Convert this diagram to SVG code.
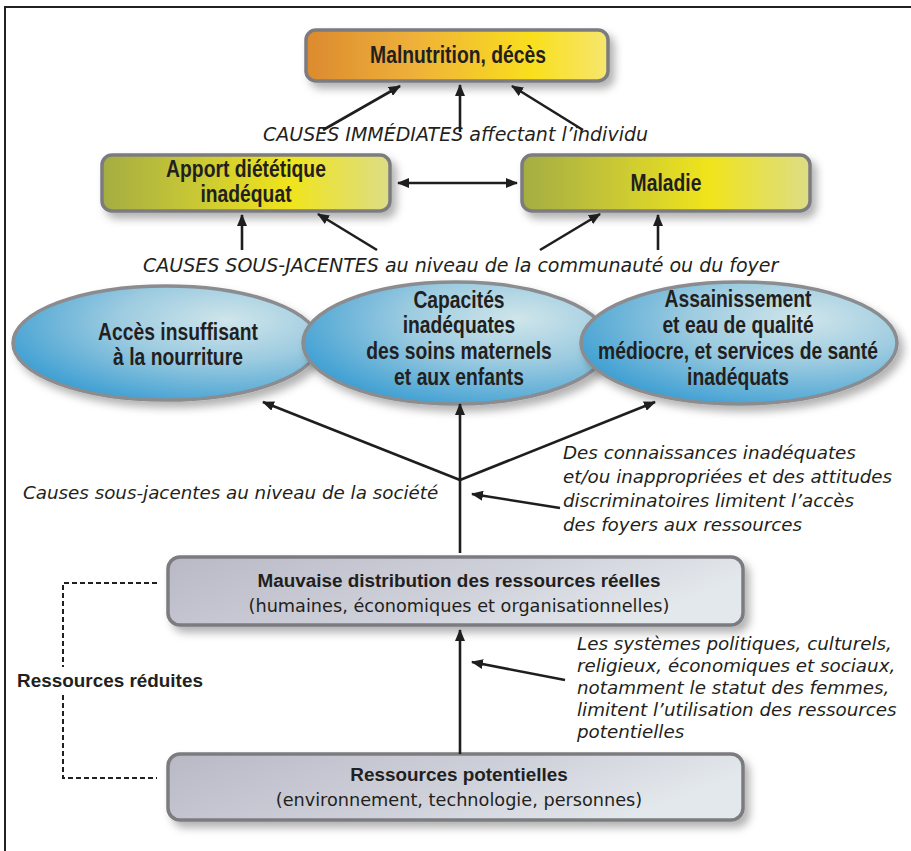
<svg xmlns="http://www.w3.org/2000/svg" width="911" height="851" viewBox="0 0 911 851">
<defs>
<style>
.bx{stroke:#7c7c80;stroke-width:3.5}
.el{stroke:#8a8c90;stroke-width:3.5}
.cb{font-family:"Liberation Sans",Arial,sans-serif;font-weight:bold;fill:#231f20;text-anchor:middle;font-size:23px}
.nb{font-family:"Liberation Sans",Arial,sans-serif;font-weight:bold;fill:#231f20;text-anchor:middle;font-size:18.9px}
.nr{font-family:"DejaVu Sans",sans-serif;fill:#231f20;text-anchor:middle;font-size:17.7px}
.it{font-family:"DejaVu Sans",sans-serif;font-style:oblique;fill:#231f20;font-size:18.3px}
.cp{font-size:19px}
.ar{stroke:#1e1e1e;stroke-width:2.6;fill:none}
</style>
<marker id="ah" viewBox="0 0 12 10" refX="11" refY="5" markerWidth="12" markerHeight="10" markerUnits="userSpaceOnUse" orient="auto-start-reverse"><path d="M0,0 L12,5 L0,10 z" fill="#1e1e1e"/></marker>
<filter id="sh" x="-10%" y="-20%" width="125%" height="160%"><feDropShadow dx="5" dy="6" stdDeviation="4" flood-color="#000" flood-opacity="0.3"/></filter>
<linearGradient id="gOr" x1="0" y1="0" x2="1" y2="0">
<stop offset="0" stop-color="#dc8a2e"/><stop offset="0.35" stop-color="#eeb03a"/><stop offset="0.75" stop-color="#f9df1e"/><stop offset="1" stop-color="#f6e66e"/>
</linearGradient>
<linearGradient id="gYg" x1="0" y1="0" x2="1" y2="0">
<stop offset="0" stop-color="#a4ad42"/><stop offset="0.3" stop-color="#c6c636"/><stop offset="0.65" stop-color="#f0e41c"/><stop offset="1" stop-color="#dcdd86"/>
</linearGradient>
<radialGradient id="gBl" cx="0.7" cy="0.3" r="0.8">
<stop offset="0" stop-color="#cfe5ea"/><stop offset="0.45" stop-color="#9ccbe0"/><stop offset="1" stop-color="#3a9dd2"/>
</radialGradient>
<linearGradient id="gGr" x1="0" y1="0" x2="1" y2="0.3">
<stop offset="0" stop-color="#b9b9c6"/><stop offset="0.6" stop-color="#cfd1da"/><stop offset="1" stop-color="#e3e8ec"/>
</linearGradient>
</defs>
<rect width="911" height="851" fill="#fff"/>
<path d="M5,851 V7 H911" fill="none" stroke="#222" stroke-width="2"/>

<g id="malnutrition">
<rect class="bx" x="306" y="30" width="302" height="51" rx="10" fill="url(#gOr)" filter="url(#sh)"/>
<text class="cb" transform="translate(458,63) scale(0.84,1)">Malnutrition, décès</text>
</g>

<g id="apport">
<rect class="bx" x="102" y="155" width="288" height="56" rx="10" fill="url(#gYg)" filter="url(#sh)"/>
<text class="cb" transform="translate(246,177) scale(0.84,1)">Apport diététique</text>
<text class="cb" transform="translate(246,202) scale(0.84,1)">inadéquat</text>
</g>

<g id="maladie">
<rect class="bx" x="522" y="155" width="288" height="56" rx="10" fill="url(#gYg)" filter="url(#sh)"/>
<text class="cb" transform="translate(666,191) scale(0.84,1)">Maladie</text>
</g>

<g id="acces">
<ellipse class="el" cx="166" cy="343" rx="153" ry="57" fill="url(#gBl)" filter="url(#sh)"/>
<text class="cb" transform="translate(178,340) scale(0.84,1)">Accès insuffisant</text>
<text class="cb" transform="translate(178,365) scale(0.84,1)">à la nourriture</text>
</g>

<g id="capacites">
<ellipse class="el" cx="456" cy="343" rx="153" ry="61" fill="url(#gBl)" filter="url(#sh)"/>
<text class="cb" transform="translate(459,308) scale(0.84,1)">Capacités</text>
<text class="cb" transform="translate(459,333) scale(0.84,1)">inadéquates</text>
<text class="cb" transform="translate(459,359) scale(0.84,1)">des soins maternels</text>
<text class="cb" transform="translate(459,385) scale(0.84,1)">et aux enfants</text>
</g>

<g id="assainissement">
<ellipse class="el" cx="739" cy="343" rx="158" ry="61" fill="url(#gBl)" filter="url(#sh)"/>
<text class="cb" transform="translate(738,307) scale(0.84,1)">Assainissement</text>
<text class="cb" transform="translate(738,333) scale(0.84,1)">et eau de qualité</text>
<text class="cb" transform="translate(738,359) scale(0.84,1)">médiocre, et services de santé</text>
<text class="cb" transform="translate(738,385) scale(0.84,1)">inadéquats</text>
</g>

<g id="mauvaise">
<rect class="bx" x="168" y="557" width="575" height="68" rx="12" fill="url(#gGr)" filter="url(#sh)"/>
<text class="nb" x="459" y="587">Mauvaise distribution des ressources réelles</text>
<text class="nr" x="459" y="612">(humaines, économiques et organisationnelles)</text>
</g>

<g id="potentielles">
<rect class="bx" x="168" y="754" width="575" height="66" rx="12" fill="url(#gGr)" filter="url(#sh)"/>
<text class="nb" x="459" y="781">Ressources potentielles</text>
<text class="nr" x="459" y="806">(environnement, technologie, personnes)</text>
</g>

<g id="labels">
<text class="it cp" x="263" y="141">CAUSES IMMÉDIATES affectant l’individu</text>
<text class="it cp" x="143" y="272">CAUSES SOUS-JACENTES au niveau de la communauté ou du foyer</text>
<text class="it" x="23" y="499">Causes sous-jacentes au niveau de la société</text>
<text class="it" x="563" y="459">Des connaissances inadéquates</text>
<text class="it" x="563" y="483">et/ou inappropriées et des attitudes</text>
<text class="it" x="563" y="507">discriminatoires limitent l’accès</text>
<text class="it" x="563" y="531">des foyers aux ressources</text>
<text class="it" x="577" y="650">Les systèmes politiques, culturels,</text>
<text class="it" x="577" y="672">religieux, économiques et sociaux,</text>
<text class="it" x="577" y="694">notamment le statut des femmes,</text>
<text class="it" x="577" y="716">limitent l’utilisation des ressources</text>
<text class="it" x="577" y="738">potentielles</text>
<text class="nb" x="110" y="687">Ressources réduites</text>
</g>

<g id="connectors">
<line class="ar" x1="323" y1="130" x2="400" y2="86" marker-end="url(#ah)"/>
<line class="ar" x1="460" y1="132" x2="460" y2="85" marker-end="url(#ah)"/>
<line class="ar" x1="583" y1="130" x2="512" y2="86" marker-end="url(#ah)"/>
<line class="ar" x1="242" y1="250" x2="242" y2="215" marker-end="url(#ah)"/>
<line class="ar" x1="377" y1="250" x2="318" y2="214" marker-end="url(#ah)"/>
<line class="ar" x1="540" y1="250" x2="600" y2="214" marker-end="url(#ah)"/>
<line class="ar" x1="658" y1="250" x2="658" y2="215" marker-end="url(#ah)"/>
<line class="ar" x1="398" y1="183" x2="517" y2="183" marker-start="url(#ah)" marker-end="url(#ah)"/>
<line class="ar" x1="460" y1="553" x2="460" y2="404" marker-end="url(#ah)"/>
<line class="ar" x1="460" y1="480" x2="263" y2="402" marker-end="url(#ah)"/>
<line class="ar" x1="460" y1="480" x2="655" y2="402" marker-end="url(#ah)"/>
<line class="ar" x1="560" y1="508" x2="472" y2="494" marker-end="url(#ah)"/>
<line class="ar" x1="460" y1="754" x2="460" y2="630" marker-end="url(#ah)"/>
<line class="ar" x1="565" y1="680" x2="472" y2="662" marker-end="url(#ah)"/>
<path d="M157,583 H63 V667 M63,695 V778 H157" fill="none" stroke="#231f20" stroke-width="2" stroke-dasharray="5,3"/>
</g>
</svg>
